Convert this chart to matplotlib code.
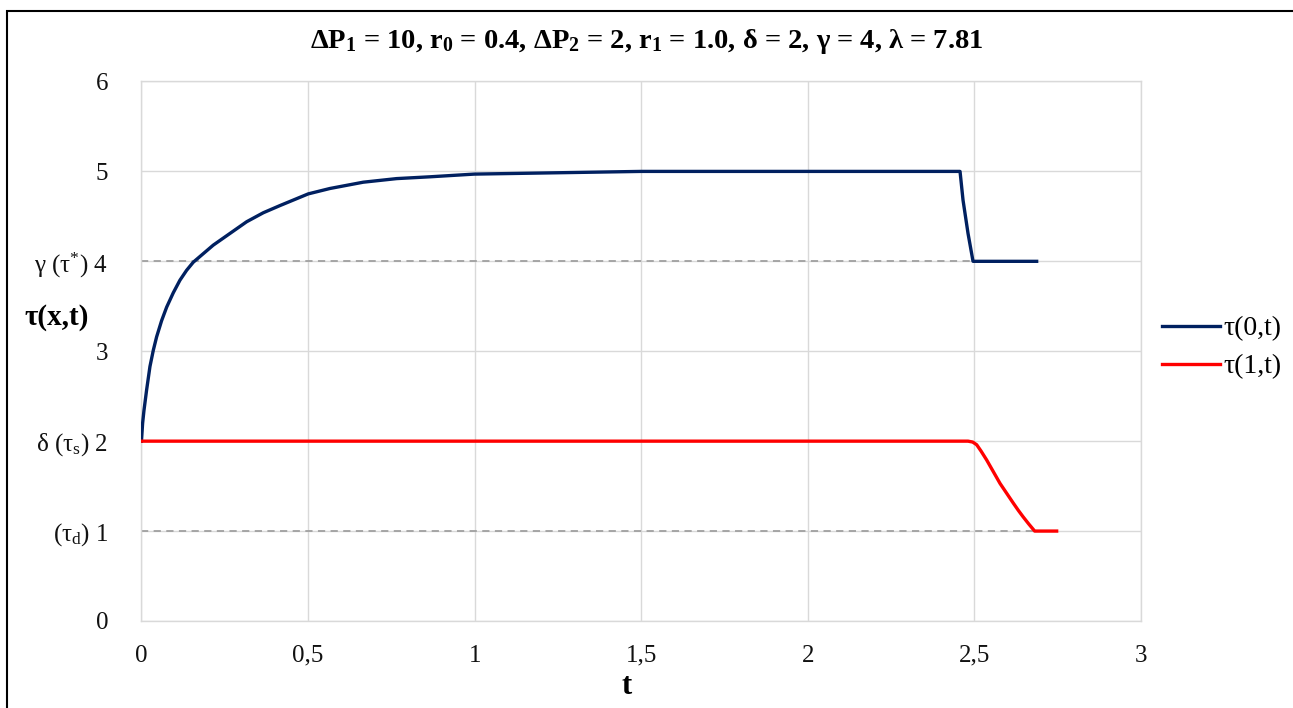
import matplotlib.pyplot as plt
from matplotlib.patches import Rectangle


# ============================================================
# DATA
# ============================================================

t_left = [0, 0.0035, 0.0075, 0.0155, 0.0255, 0.0355, 0.0455, 0.0605,
          0.0756, 0.0955, 0.1155, 0.1355, 0.1555, 0.2155, 0.2656, 0.3157,
          0.3656, 0.4157, 0.5006, 0.5657, 0.6657, 0.766, 0.866, 0.999,
          1.166, 1.5, 2.0, 2.457, 2.466, 2.481, 2.496, 2.687]
tau_left = [2.0, 2.20, 2.34, 2.57, 2.83, 3.01, 3.16, 3.34,
            3.49, 3.65, 3.79, 3.90, 3.99, 4.18, 4.31, 4.44,
            4.54, 4.62, 4.75, 4.81, 4.88, 4.92, 4.94, 4.97,
            4.98, 5.0, 5.0, 5.0, 4.68, 4.31, 4.0, 4.0]

t_right = [0, 2.481, 2.495, 2.507, 2.52, 2.537, 2.557, 2.577, 2.597,
           2.617, 2.632, 2.646, 2.663, 2.681, 2.747]
tau_right = [2.0, 2.0, 1.99, 1.96, 1.89, 1.79, 1.66, 1.53, 1.42,
             1.31, 1.23, 1.16, 1.08, 1.0, 1.0]

# yield stress levels drawn as dashed guides
guide_levels = [4, 1]
guide_ends = [2.5, 2.68]

y_ticks = [0, 1, 2, 3, 4, 5, 6]
y_tick_labels = ["0", r"(τ$_\mathrm{d}$) 1", r"δ (τ$_\mathrm{s}$) 2", "3",
                 r"γ (τ$^{*}$) 4", "5", "6"]
x_ticks = [0, 0.5, 1, 1.5, 2, 2.5, 3]
x_tick_labels = ["0", "0,5", "1", "1,5", "2", "2,5", "3"]

series_names = ["τ(0,t)", "τ(1,t)"]

title = (r"ΔP$_\mathbf{1}$ = 10, r$_\mathbf{0}$ = 0.4, "
         r"ΔP$_\mathbf{2}$ = 2, r$_\mathbf{1}$ = 1.0, "
         r"δ = 2, γ = 4, λ = 7.81")


# ============================================================
# STYLE
# ============================================================

plt.rcParams["font.family"] = ["Liberation Serif", "DejaVu Serif"]
plt.rcParams["mathtext.fontset"] = "custom"
plt.rcParams["mathtext.rm"] = "Liberation Serif"
plt.rcParams["mathtext.it"] = "Liberation Serif:italic"
plt.rcParams["mathtext.bf"] = "Liberation Serif:bold"

grid_color = "#d9d9d9"


# ============================================================
# PLOT
# ============================================================

fig = plt.figure(figsize=(12.93, 7.08), dpi=100)
ax = fig.add_axes([0.1094, 0.1229, 0.773, 0.762])

for level, end in zip(guide_levels, guide_ends):
    ax.plot([0, end], [level, level], color="#a0a0a0", lw=1.3,
            dashes=[4, 3], zorder=2)

ax.plot(t_left, tau_left, color="#002060", lw=2.4,
        label=series_names[0], zorder=3, solid_joinstyle="round")
ax.plot(t_right, tau_right, color="#ff0000", lw=2.4,
        label=series_names[1], zorder=3, solid_joinstyle="round")

ax.set_xlim(0, 3)
ax.set_ylim(0, 6)

ax.set_xticks(x_ticks)
ax.set_xticklabels(x_tick_labels)
ax.set_yticks(y_ticks)
ax.set_yticklabels(y_tick_labels)

ax.tick_params(length=0, labelsize=18, colors="#111111")
ax.tick_params(axis="y", pad=24)
ax.tick_params(axis="x", pad=17)

ax.grid(True, color=grid_color, lw=1)
ax.set_axisbelow(True)

for spine in ax.spines.values():
    spine.set_color(grid_color)
    spine.set_linewidth(1)

fig.legend(loc="center left", bbox_to_anchor=(0.888, 0.509),
           frameon=False, fontsize=20, handlelength=2.1,
           handletextpad=0.12, labelspacing=0.45, borderpad=0)

fig.text(0.5, 0.941, title, ha="center", va="center",
         fontsize=20.5, fontweight="bold")
fig.text(0.044, 0.552, "τ(x,t)", ha="center", va="center",
         fontsize=21, fontweight="bold")
fig.text(0.485, 0.031, "t", ha="center", va="center",
         fontsize=22, fontweight="bold")

# outer frame around the whole chart
fig.patches.append(Rectangle((7 / 1293, -0.05), 1.1, 1.05 - 11 / 708,
                             transform=fig.transFigure, fill=False,
                             edgecolor="black", lw=1.5))

plt.savefig("out.png", dpi=100)
